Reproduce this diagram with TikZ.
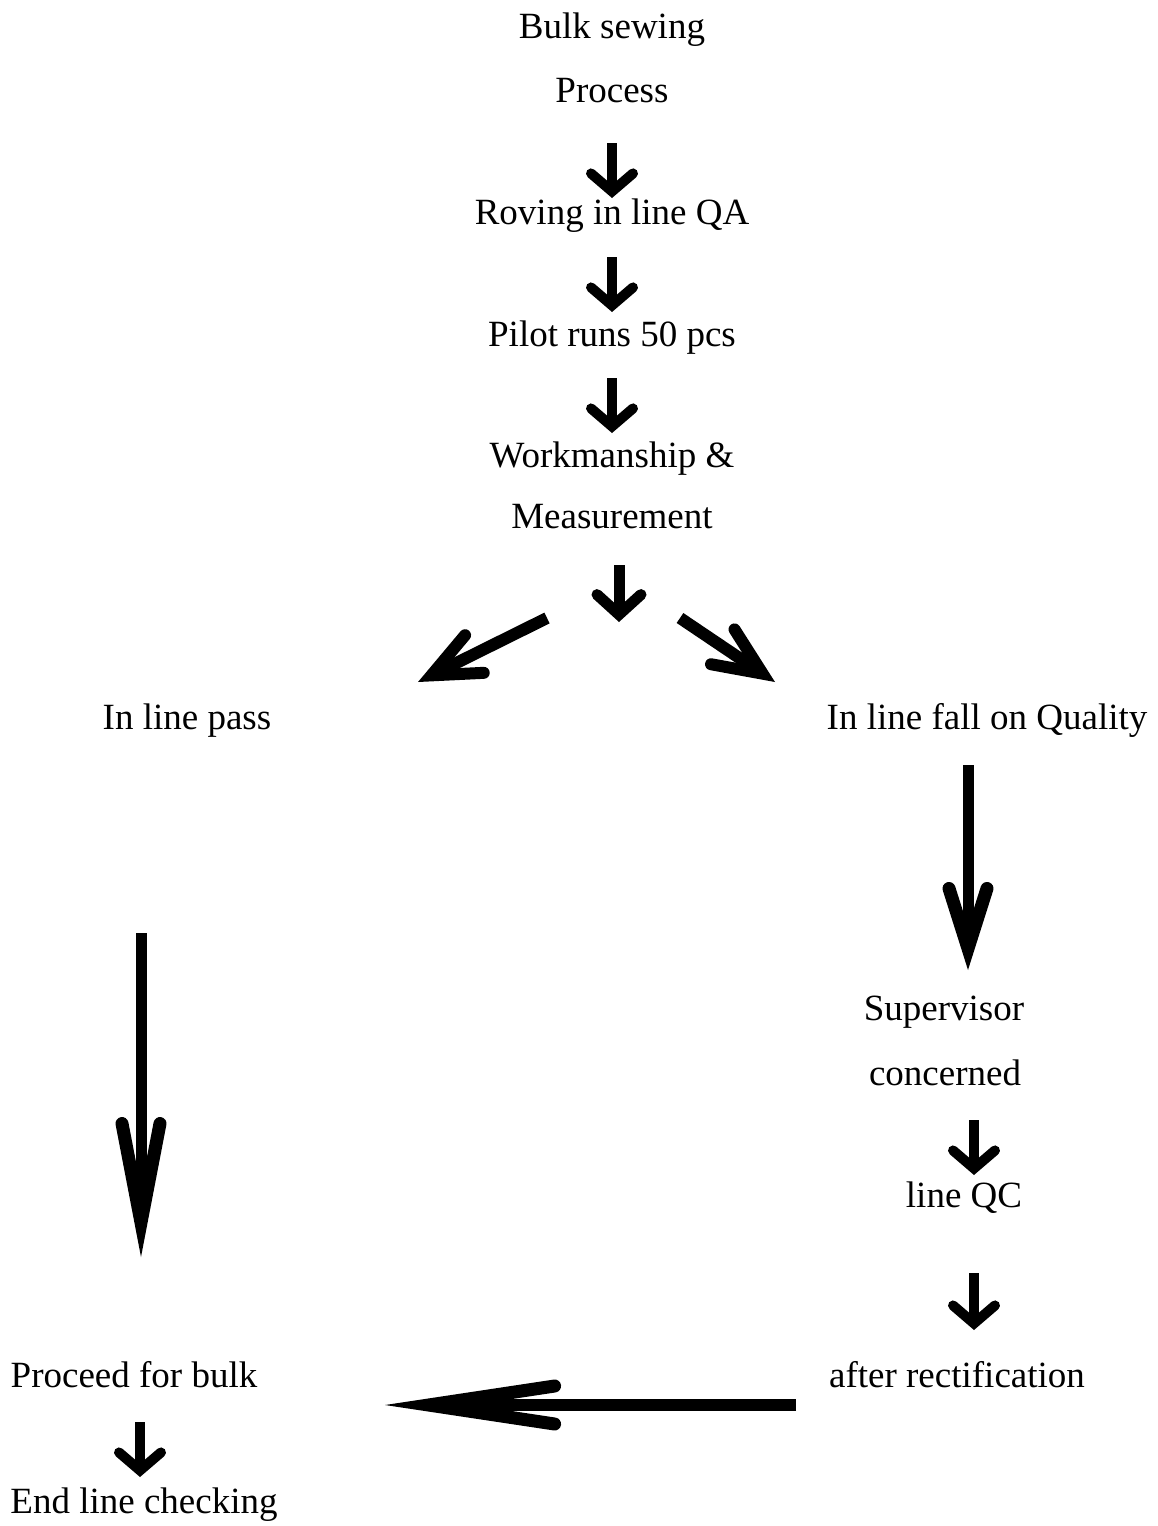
\documentclass[tikz,border=0pt]{standalone}
\usepackage{fontspec}
\setmainfont{Liberation Serif}
\usetikzlibrary{arrows.meta}
\newcommand\lblfont{\fontsize{37}{44}\selectfont}
\tikzset{
  lbl/.style={font=\lblfont, anchor=base, inner sep=0pt},
  smallarr/.style={line width=10pt, -{Straight Barb[length=18pt,width=42pt,line cap=round,line join=miter]}},
  midarr/.style={line width=11pt, -{Straight Barb[length=20pt,width=44pt,line cap=round,line join=miter]}},
  diagarr/.style={line width=12pt, -{Straight Barb[length=48pt,width=42pt,line cap=round,line join=miter]}},
  bigarr/.style={line width=11pt, miter limit=30, -{Straight Barb[length=#1,width=38pt,line width=13pt,line cap=round,line join=miter]}}
}
\begin{document}
\begin{tikzpicture}[x=1pt,y=-1pt]
\useasboundingbox[fill=white] (0,0) rectangle (1157,1526);
% labels
\node[lbl] (bulk) at (612,38) {Bulk sewing};
\node[lbl] (process) at (612,102) {Process};
\node[lbl] (roving) at (612,224) {Roving in line QA};
\node[lbl] (pilot) at (612,346) {Pilot runs 50 pcs};
\node[lbl] (work) at (612,467) {Workmanship \&};
\node[lbl] (meas) at (612,528) {Measurement};
\node[lbl] (pass) at (187,729) {In line pass};
\node[lbl] (fall) at (987,729) {In line fall on Quality};
\node[lbl] (sup) at (944,1020) {Supervisor};
\node[lbl] (conc) at (945,1085) {concerned};
\node[lbl] (qc) at (964,1207) {line QC};
\node[lbl] (rect) at (957,1387) {after rectification};
\node[lbl] (proceed) at (134,1387) {Proceed for bulk};
\node[lbl] (endl) at (144,1513) {End line checking};
% connector end points
\coordinate (a1s) at (612,143); \coordinate (a1e) at (612,198);
\coordinate (a2s) at (612,257); \coordinate (a2e) at (612,312);
\coordinate (a3s) at (612,378); \coordinate (a3e) at (612,433);
\coordinate (a4s) at (619,565); \coordinate (a4e) at (619,622);
\coordinate (aLs) at (547,618); \coordinate (aLe) at (418,682);
\coordinate (aRs) at (680,618); \coordinate (aRe) at (775,682);
\coordinate (bRs) at (968,765); \coordinate (bRe) at (968,970);
\coordinate (bLs) at (141,933); \coordinate (bLe) at (141,1257);
\coordinate (a5s) at (974,1120); \coordinate (a5e) at (974,1175);
\coordinate (a6s) at (974,1273); \coordinate (a6e) at (974,1330);
\coordinate (hs) at (796,1405); \coordinate (he) at (385,1405);
\coordinate (a7s) at (140,1422); \coordinate (a7e) at (140,1477);
% connectors
\draw[smallarr] (a1s) -- (a1e);
\draw[smallarr] (a2s) -- (a2e);
\draw[smallarr] (a3s) -- (a3e);
\draw[midarr] (a4s) -- (a4e);
\draw[diagarr] (aLs) -- (aLe);
\draw[diagarr] (aRs) -- (aRe);
\draw[bigarr=60pt] (bRs) -- (bRe);
\draw[bigarr=99pt] (bLs) -- (bLe);
\draw[smallarr] (a5s) -- (a5e);
\draw[smallarr] (a6s) -- (a6e);
\draw[bigarr=126pt, line width=12pt] (hs) -- (he);
\draw[smallarr] (a7s) -- (a7e);
\end{tikzpicture}
\end{document}
